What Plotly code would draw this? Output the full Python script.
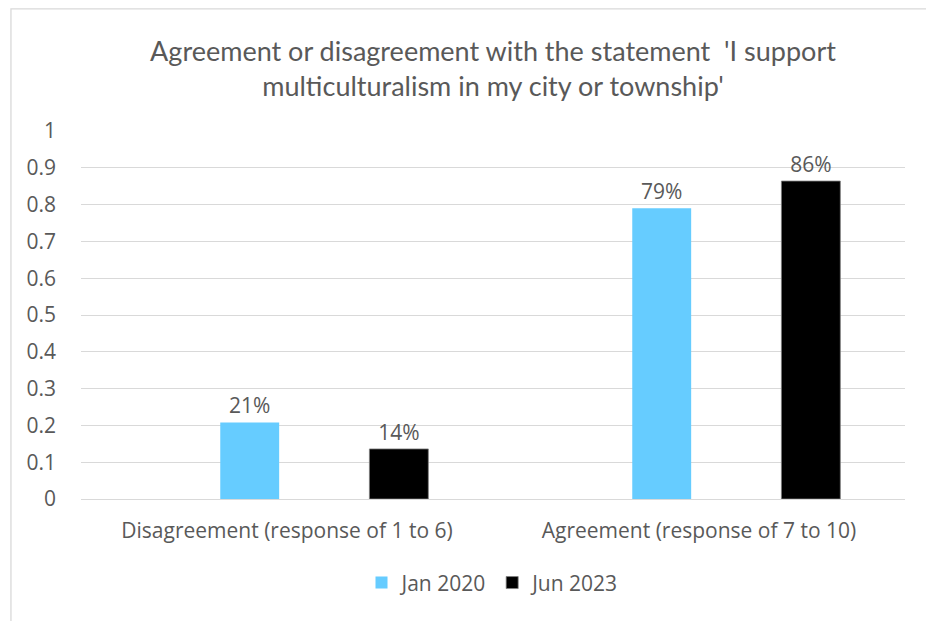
import plotly.graph_objects as go

categories = ["Disagreement (response of 1 to 6)", "Agreement (response of 7 to 10)"]
jan_2020 = [0.208, 0.79]
jun_2023 = [0.136, 0.864]
series_names = ["Jan 2020", "Jun 2023"]
y_ticks = [0, 0.1, 0.2, 0.3, 0.4, 0.5, 0.6, 0.7, 0.8, 0.9, 1]
y_tick_labels = ["0", "0.1", "0.2", "0.3", "0.4", "0.5", "0.6", "0.7", "0.8", "0.9", "1"]

TXT = "#595959"
FONT = "Open Sans"
FS = 21

fig = go.Figure()
fig.add_trace(go.Bar(
    x=categories, y=jan_2020, name=series_names[0],
    marker=dict(color="#66CCFF", line=dict(width=0)),
    width=0.143, offset=-0.162,
    texttemplate="%{y:.0%}", textposition="outside",
    textfont=dict(size=FS, color=TXT, family=FONT), cliponaxis=False,
))
fig.add_trace(go.Bar(
    x=categories, y=jun_2023, name=series_names[1],
    marker=dict(color="#000000", line=dict(width=0.8, color="#7F7F7F")),
    width=0.143, offset=0.2,
    texttemplate="%{y:.0%}", textposition="outside",
    textfont=dict(size=FS, color=TXT, family=FONT), cliponaxis=False,
))

fig.update_layout(
    width=926, height=613,
    margin=dict(l=73, r=29, t=123, b=122),
    paper_bgcolor="white", plot_bgcolor="white",
    barmode="group",
    title=dict(
        text="Agreement or disagreement with the statement  'I support<br>multiculturalism in my city or township'",
        x=0.5, xref="paper", xanchor="center", y=0.913, yanchor="middle",
        font=dict(family="Lato", size=27, color=TXT),
    ),
    font=dict(family=FONT, size=FS, color=TXT),
    showlegend=True,
    legend=dict(orientation="h", x=0.5, xanchor="center", xref="paper",
                y=-0.228, yanchor="middle", font=dict(size=FS, color=TXT, family=FONT),
                itemwidth=30, traceorder="normal"),
    xaxis=dict(showgrid=False, showline=False, ticks="", ticklabelstandoff=17,
               tickfont=dict(size=FS, color=TXT)),
    yaxis=dict(range=[0, 1], tickvals=y_ticks, ticktext=y_tick_labels,
               showgrid=True, gridcolor="#D9D9D9", gridwidth=1.3,
               zeroline=True, zerolinecolor="#D9D9D9", zerolinewidth=1.3,
               showline=False, ticks="", ticklabelstandoff=24,
               tickfont=dict(size=FS, color=TXT)),
)

fig.add_shape(type="rect", xref="paper", yref="paper",
              x0=-0.085, x1=1.034, y0=-0.36, y1=1.332,
              line=dict(color="#D9D9D9", width=1.3), fillcolor="rgba(0,0,0,0)", layer="below")

fig.write_html("out.html")
